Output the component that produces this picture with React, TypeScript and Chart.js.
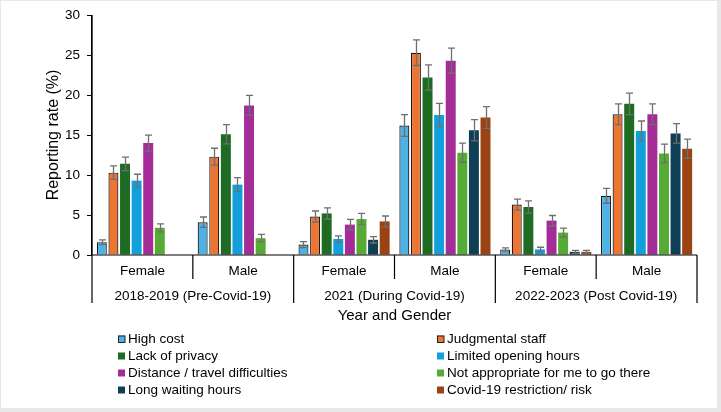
import React, { useEffect, useRef } from 'react';
import { Chart, registerables } from 'chart.js';
Chart.register(...registerables);

const genders = ['Female', 'Male', 'Female', 'Male', 'Female', 'Male'];
const periods = ['2018-2019 (Pre-Covid-19)', '2021 (During Covid-19)', '2022-2023 (Post Covid-19)'];
const yTicks = [0, 5, 10, 15, 20, 25, 30];

const seriesNames = [
  'High cost',
  'Judgmental staff',
  'Lack of privacy',
  'Limited opening hours',
  'Distance / travel difficulties',
  'Not appropriate for me to go there',
  'Long waiting hours',
  'Covid-19 restriction/ risk',
];

const highCost = [1.6, 4.1, 1.3, 16.2, 0.7, 7.4];
const judgmental = [10.3, 12.3, 4.8, 25.3, 6.3, 17.6];
const privacy = [11.4, 15.1, 5.2, 22.2, 6.0, 18.9];
const limitedHours = [9.3, 8.8, 2.0, 17.5, 0.7, 15.5];
const distance = [14.0, 18.7, 3.8, 24.3, 4.3, 17.6];
const notAppropriate = [3.4, 2.1, 4.5, 12.8, 2.8, 12.7];
const longWaiting = [null, null, 1.9, 15.6, 0.4, 15.2];
const covidRisk = [null, null, 4.2, 17.2, 0.4, 13.3];

const highCostErr = [0.3, 0.65, 0.37, 1.36, 0.2, 0.93];
const judgmentalErr = [0.85, 1.05, 0.7, 1.6, 0.68, 1.3];
const privacyErr = [0.85, 1.2, 0.7, 1.57, 0.76, 1.34];
const limitedHoursErr = [0.8, 0.87, 0.4, 1.45, 0.27, 1.26];
const distanceErr = [1.0, 1.25, 0.66, 1.57, 0.64, 1.3];
const notAppropriateErr = [0.5, 0.47, 0.7, 1.2, 0.56, 1.16];
const longWaitingErr = [0, 0, 0.4, 1.34, 0.19, 1.22];
const covidRiskErr = [0, 0, 0.68, 1.36, 0.19, 1.2];

const seriesValues = [highCost, judgmental, privacy, limitedHours, distance, notAppropriate, longWaiting, covidRisk];
const seriesErrors = [highCostErr, judgmentalErr, privacyErr, limitedHoursErr, distanceErr, notAppropriateErr, longWaitingErr, covidRiskErr];
const seriesColors = ['#4DB3E6', '#ED7431', '#1E6B24', '#11A0DB', '#A32C97', '#56AB34', '#0E3F55', '#9C4313'];
const seriesBorders = [true, true, false, false, false, false, false, false];

const FONT = "'Liberation Sans', Arial, sans-serif";

const decorPlugin = {
  id: 'decor',
  afterDatasetsDraw(chart: any) {
    const { ctx, scales } = chart;
    const y = scales.y;
    ctx.save();
    ctx.strokeStyle = '#6f6f6f';
    ctx.lineWidth = 1.3;
    chart.data.datasets.forEach((ds: any, di: number) => {
      const meta = chart.getDatasetMeta(di);
      meta.data.forEach((el: any, i: number) => {
        const v = ds.data[i];
        if (v == null) return;
        const e = seriesErrors[di][i];
        const yt = y.getPixelForValue(v + e);
        const yb = y.getPixelForValue(Math.max(0, v - e));
        const x = Math.round(el.x) + 0.5;
        ctx.beginPath();
        ctx.moveTo(x, yt);
        ctx.lineTo(x, yb);
        ctx.moveTo(x - 3.5, yt);
        ctx.lineTo(x + 3.5, yt);
        ctx.moveTo(x - 3.5, yb);
        ctx.lineTo(x + 3.5, yb);
        ctx.stroke();
      });
    });
    ctx.restore();
  },
  afterDraw(chart: any) {
    const { ctx, chartArea, scales } = chart;
    const x = scales.x;
    const { left, right, top, bottom } = chartArea;
    const shortEnd = 279;
    const longEnd = 303;
    ctx.save();
    ctx.strokeStyle = '#000';
    ctx.lineWidth = 1.2;
    ctx.beginPath();
    ctx.moveTo(left, bottom);
    ctx.lineTo(right, bottom);
    ctx.moveTo(left, top);
    ctx.lineTo(left, longEnd);
    ctx.moveTo(right, bottom);
    ctx.lineTo(right, longEnd);
    for (let i = 1; i < genders.length; i++) {
      const bx = (x.getPixelForValue(i - 1) + x.getPixelForValue(i)) / 2;
      ctx.moveTo(bx, bottom);
      ctx.lineTo(bx, i % 2 === 0 ? longEnd : shortEnd);
    }
    ctx.stroke();

    ctx.fillStyle = '#000';
    ctx.textAlign = 'center';
    ctx.textBaseline = 'middle';
    ctx.font = `13.5px ${FONT}`;
    genders.forEach((g, i) => {
      ctx.fillText(g, x.getPixelForValue(i), 271);
    });
    periods.forEach((p, i) => {
      const cx = (x.getPixelForValue(i * 2) + x.getPixelForValue(i * 2 + 1)) / 2;
      ctx.fillText(p, cx, 296);
    });
    ctx.font = `15px ${FONT}`;
    ctx.fillText('Year and Gender', (left + right) / 2, 316);

    ctx.save();
    ctx.translate(54, 135);
    ctx.rotate(-Math.PI / 2);
    ctx.font = `16px ${FONT}`;
    ctx.fillText('Reporting rate (%)', 0, 0);
    ctx.restore();

    // legend
    const colX = [118, 437];
    const rowY = [339, 356, 373, 390];
    ctx.font = `13.5px ${FONT}`;
    ctx.textAlign = 'left';
    seriesNames.forEach((name, i) => {
      const cx = colX[i % 2];
      const cy = rowY[Math.floor(i / 2)];
      ctx.fillStyle = seriesColors[i];
      ctx.fillRect(cx, cy - 3.5, 7, 7);
      if (seriesBorders[i]) {
        ctx.strokeStyle = '#222';
        ctx.lineWidth = 1;
        ctx.strokeRect(cx + 0.5, cy - 3, 6.5, 6.5);
      }
      ctx.fillStyle = '#000';
      ctx.fillText(name, cx + 10, cy + 0.5);
    });
    ctx.restore();
  },
};

export default function App() {
  const ref = useRef<HTMLCanvasElement | null>(null);
  useEffect(() => {
    if (!ref.current) return;
    const chart = new Chart(ref.current, {
      type: 'bar',
      data: {
        labels: genders,
        datasets: seriesNames.map((name, i) => ({
          label: name,
          data: seriesValues[i],
          backgroundColor: seriesColors[i],
          borderColor: seriesBorders[i] ? '#1a1a1a' : seriesColors[i],
          borderWidth: seriesBorders[i] ? 1.2 : 0,
          categoryPercentage: 0.92,
          barPercentage: 0.86,
        })),
      },
      options: {
        animation: false,
        responsive: false,
        maintainAspectRatio: false,
        layout: { padding: { left: 0, right: 24, top: 0, bottom: 0 } },
        plugins: { legend: { display: false }, tooltip: { enabled: false } },
        scales: {
          x: {
            type: 'category',
            ticks: { display: false },
            grid: { display: false },
            border: { display: false },
            afterFit: (s: any) => { s.height = 157; },
          },
          y: {
            min: 0,
            max: 30,
            afterBuildTicks: (s: any) => { s.ticks = yTicks.map((v) => ({ value: v })); },
            ticks: { color: '#000', font: { family: FONT, size: 13.5 }, padding: 7 },
            grid: { drawOnChartArea: false, drawTicks: true, tickLength: 5, color: '#000', lineWidth: 1 },
            border: { display: true, color: '#000', width: 1.2 },
            afterFit: (s: any) => { s.width = 92; },
          },
        },
      },
      plugins: [decorPlugin],
    });
    return () => chart.destroy();
  }, []);
  return (
    <div style={{ position: 'fixed', left: 0, top: 0, width: 721, height: 412, background: '#e8e8e8' }}>
      <div style={{ position: 'absolute', left: 1, top: 1, width: 716, height: 407, background: '#fff' }} />
      <canvas ref={ref} width={721} height={412} style={{ position: 'absolute', left: 0, top: 0, width: 721, height: 412 }} />
    </div>
  );
}
